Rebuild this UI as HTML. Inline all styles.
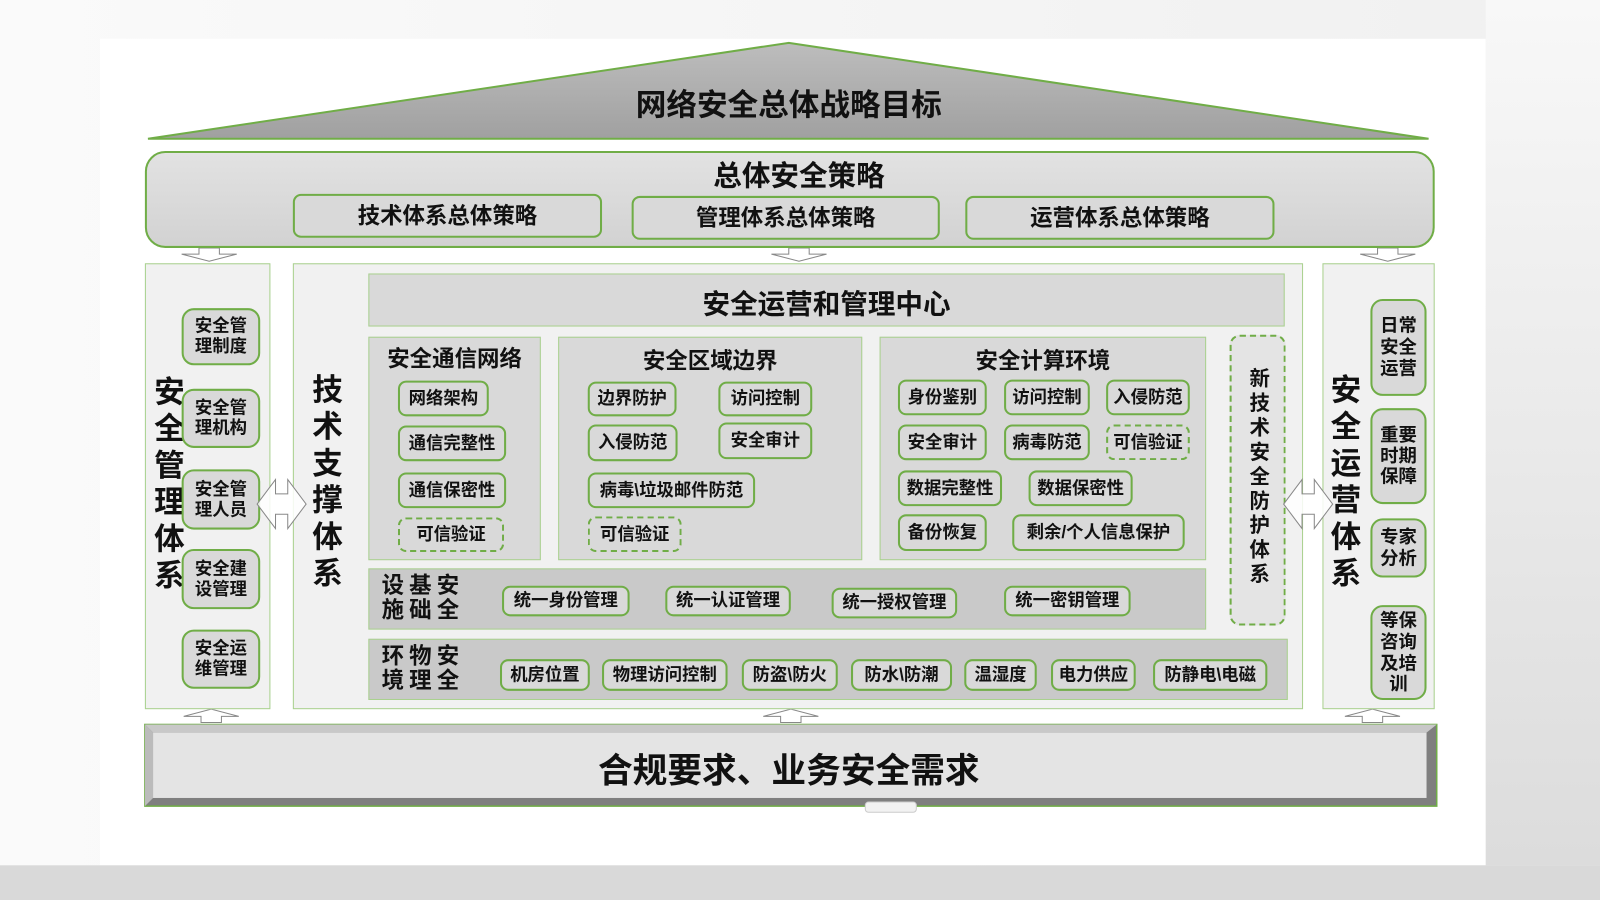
<!DOCTYPE html>
<html><head><meta charset="utf-8"><style>
html,body{margin:0;padding:0;width:1600px;height:900px;overflow:hidden;background:linear-gradient(90deg,#fafafa,#f0f0f0);}
#w{position:absolute;left:0;top:0;width:1568px;height:882px;transform:scale(1.020408);transform-origin:0 0;font-family:"Liberation Sans","Noto Sans CJK SC",sans-serif;font-weight:bold;color:#111;}
.a{position:absolute;box-sizing:border-box;}
.b{position:absolute;box-sizing:border-box;border:2px solid #70ad47;border-radius:8px;background:#d9d9d9;display:flex;align-items:center;justify-content:center;font-size:17px;line-height:1.15;text-align:center;white-space:nowrap;}
.d{border-style:dashed;}
.t{position:absolute;text-align:center;white-space:nowrap;}
.v{position:absolute;writing-mode:vertical-rl;text-orientation:upright;}
</style></head><body><div id="w">
<div class="a" style="left:98px;top:38px;width:1358px;height:810px;background:#fff"></div>
<div class="a" style="left:0;top:848px;width:1568px;height:34px;background:#d9d9d9"></div>
<div class="a" style="left:1456px;top:0;width:112px;height:848px;background:linear-gradient(#f8f8f8,#dcdcdc)"></div>
<svg class="a" style="left:0;top:0" width="1568" height="882">
<defs><linearGradient id="g" x1="0" y1="0" x2="0" y2="1"><stop offset="0" stop-color="#bdbdbd"/><stop offset="1" stop-color="#a0a0a0"/></linearGradient></defs>
<polygon points="773,42 1400,136 145,136" fill="url(#g)" stroke="#70ad47" stroke-width="2"/>
<g fill="#fff" stroke="#888" stroke-width="1">
<polygon points="195,243 215,243 215,249 232,249 205,256 178,249 195,249"/>
<polygon points="773,243 793,243 793,249 810,249 783,256 756,249 773,249"/>
<polygon points="1350,243 1370,243 1370,249 1387,249 1360,256 1333,249 1350,249"/>
<polygon points="197,708 217,708 217,702 234,702 207,695 180,702 197,702"/>
<polygon points="765,708 785,708 785,702 802,702 775,695 748,702 765,702"/>
<polygon points="1335,708 1355,708 1355,702 1372,702 1345,695 1318,702 1335,702"/>
</g>
<rect x="142" y="710" width="1266" height="80" fill="#7f7f7f" stroke="#70ad47" stroke-width="1.5"/>
<polygon points="142,710 1408,710 1398,718 150,718" fill="#c8c8c8"/>
<polygon points="142,710 150,718 150,782 142,790" fill="#bbb"/>
<rect x="150" y="718" width="1248" height="64" fill="#e4e4e4"/>
<rect x="848" y="786" width="50" height="10" rx="3" fill="#f2f2f2" stroke="#ccc"/>
</svg>
<div class="t" style="left:573px;top:78px;width:400px;font-size:30px">网络安全总体战略目标</div>
<div class="a" style="left:142px;top:148px;width:1264px;height:95px;border:2px solid #70ad47;border-radius:20px;background:linear-gradient(#e2e2e2,#d2d2d2)"></div>
<div class="t" style="left:633px;top:151px;width:300px;font-size:28px">总体安全策略</div>
<div class="b" style="left:287px;top:190px;width:303px;height:43px;font-size:22px">技术体系总体策略</div>
<div class="b" style="left:619px;top:192px;width:302px;height:43px;font-size:22px">管理体系总体策略</div>
<div class="b" style="left:946px;top:192px;width:303px;height:43px;font-size:22px">运营体系总体策略</div>

<div class="a" style="left:142px;top:258px;width:123px;height:437px;background:#f1f1f1;border:1px solid #a9d18e"></div>
<div class="v" style="left:145px;top:368px;font-size:30px;line-height:34px;letter-spacing:6px">安全管理体系</div>
<div class="b" style="left:178px;top:302px;width:77px;height:56px;border-radius:12px">安全管<br>理制度</div>
<div class="b" style="left:178px;top:381px;width:77px;height:58px;border-radius:12px">安全管<br>理机构</div>
<div class="b" style="left:178px;top:460px;width:77px;height:59px;border-radius:12px">安全管<br>理人员</div>
<div class="b" style="left:178px;top:538px;width:77px;height:59px;border-radius:12px">安全建<br>设管理</div>
<div class="b" style="left:178px;top:617px;width:77px;height:58px;border-radius:12px">安全运<br>维管理</div>

<div class="a" style="left:287px;top:258px;width:990px;height:437px;background:#f1f1f1;border:1px solid #a9d18e"></div>
<div class="v" style="left:300px;top:366px;font-size:30px;line-height:34px;letter-spacing:6px">技术支撑体系</div>
<div class="a" style="left:361px;top:268px;width:898px;height:52px;background:#d9d9d9;border:1px solid #a9d18e"></div>
<div class="t" style="left:610px;top:276px;width:400px;font-size:27px">安全运营和管理中心</div>

<div class="a" style="left:361px;top:330px;width:169px;height:219px;background:#d9d9d9;border:1px solid #a9d18e"></div>
<div class="t" style="left:361px;top:334px;width:169px;font-size:22px">安全通信网络</div>
<div class="b" style="left:390px;top:373px;width:89px;height:35px">网络架构</div>
<div class="b" style="left:390px;top:417px;width:106px;height:35px">通信完整性</div>
<div class="b" style="left:390px;top:463px;width:106px;height:35px">通信保密性</div>
<div class="b d" style="left:390px;top:507px;width:104px;height:34px">可信验证</div>

<div class="a" style="left:547px;top:330px;width:298px;height:219px;background:#d9d9d9;border:1px solid #a9d18e"></div>
<div class="t" style="left:547px;top:336px;width:298px;font-size:22px">安全区域边界</div>
<div class="b" style="left:576px;top:374px;width:87px;height:34px">边界防护</div>
<div class="b" style="left:704px;top:374px;width:92px;height:34px">访问控制</div>
<div class="b" style="left:576px;top:416px;width:88px;height:36px">入侵防范</div>
<div class="b" style="left:704px;top:414px;width:92px;height:36px">安全审计</div>
<div class="b" style="left:576px;top:463px;width:164px;height:35px">病毒\垃圾邮件防范</div>
<div class="b d" style="left:576px;top:506px;width:92px;height:35px">可信验证</div>

<div class="a" style="left:862px;top:330px;width:320px;height:219px;background:#d9d9d9;border:1px solid #a9d18e"></div>
<div class="t" style="left:862px;top:336px;width:320px;font-size:22px">安全计算环境</div>
<div class="b" style="left:880px;top:372px;width:87px;height:35px">身份鉴别</div>
<div class="b" style="left:984px;top:372px;width:84px;height:35px">访问控制</div>
<div class="b" style="left:1084px;top:372px;width:82px;height:35px">入侵防范</div>
<div class="b" style="left:880px;top:416px;width:87px;height:35px">安全审计</div>
<div class="b" style="left:984px;top:416px;width:84px;height:35px">病毒防范</div>
<div class="b d" style="left:1084px;top:416px;width:82px;height:35px">可信验证</div>
<div class="b" style="left:880px;top:461px;width:102px;height:35px">数据完整性</div>
<div class="b" style="left:1008px;top:461px;width:102px;height:35px">数据保密性</div>
<div class="b" style="left:880px;top:504px;width:87px;height:36px">备份恢复</div>
<div class="b" style="left:992px;top:504px;width:169px;height:36px">剩余/个人信息保护</div>

<div class="a" style="left:1205px;top:328px;width:55px;height:285px;border:2px dashed #70ad47;border-radius:10px;background:#e4e4e4"></div>
<div class="v" style="left:1220px;top:360px;font-size:20px;line-height:24px;letter-spacing:4px">新技术安全防护体系</div>

<div class="a" style="left:361px;top:557px;width:821px;height:60px;background:#c9c9c9;border:1px solid #a9d18e"></div>
<div class="t" style="left:374px;top:562px;font-size:22px;line-height:24px;letter-spacing:5px;text-align:left">设基安<br>施础全</div>
<div class="b" style="left:492px;top:574px;width:125px;height:30px">统一身份管理</div>
<div class="b" style="left:652px;top:574px;width:123px;height:30px">统一认证管理</div>
<div class="b" style="left:815px;top:576px;width:123px;height:30px">统一授权管理</div>
<div class="b" style="left:984px;top:574px;width:124px;height:30px">统一密钥管理</div>

<div class="a" style="left:361px;top:626px;width:901px;height:60px;background:#c9c9c9;border:1px solid #a9d18e"></div>
<div class="t" style="left:374px;top:631px;font-size:22px;line-height:24px;letter-spacing:5px;text-align:left">环物安<br>境理全</div>
<div class="b" style="left:490px;top:646px;width:88px;height:31px">机房位置</div>
<div class="b" style="left:590px;top:646px;width:123px;height:31px">物理访问控制</div>
<div class="b" style="left:727px;top:646px;width:94px;height:31px">防盗\防火</div>
<div class="b" style="left:834px;top:646px;width:99px;height:31px">防水\防潮</div>
<div class="b" style="left:945px;top:646px;width:71px;height:31px">温湿度</div>
<div class="b" style="left:1030px;top:646px;width:83px;height:31px">电力供应</div>
<div class="b" style="left:1130px;top:646px;width:112px;height:31px">防静电\电磁</div>

<div class="a" style="left:1296px;top:258px;width:110px;height:437px;background:#f1f1f1;border:1px solid #a9d18e"></div>
<div class="v" style="left:1298px;top:366px;font-size:30px;line-height:34px;letter-spacing:6px">安全运营体系</div>
<div class="b" style="left:1343px;top:293px;width:55px;height:95px;border-radius:12px;font-size:18px;white-space:normal;padding:0 7px">日常安全运营</div>
<div class="b" style="left:1343px;top:400px;width:55px;height:94px;border-radius:12px;font-size:18px;white-space:normal;padding:0 7px">重要时期保障</div>
<div class="b" style="left:1343px;top:508px;width:55px;height:58px;border-radius:12px;font-size:18px;white-space:normal;padding:0 7px">专家分析</div>
<div class="b" style="left:1343px;top:593px;width:55px;height:93px;border-radius:12px;font-size:18px;white-space:normal;padding:0 7px">等保咨询及培训</div>

<svg class="a" style="left:0;top:0" width="1568" height="882">
<g fill="#fff" stroke="#888" stroke-width="1" fill-opacity="0.85">
<polygon points="252,494 270,470 270,484 282,484 282,470 300,494 282,518 282,504 270,504 270,518"/>
<polygon points="1258,494 1276,470 1276,484 1288,484 1288,470 1306,494 1288,518 1288,504 1276,504 1276,518"/>
</g></svg>

<div class="t" style="left:523px;top:728px;width:500px;font-size:34px">合规要求、业务安全需求</div>
</div></body></html>
